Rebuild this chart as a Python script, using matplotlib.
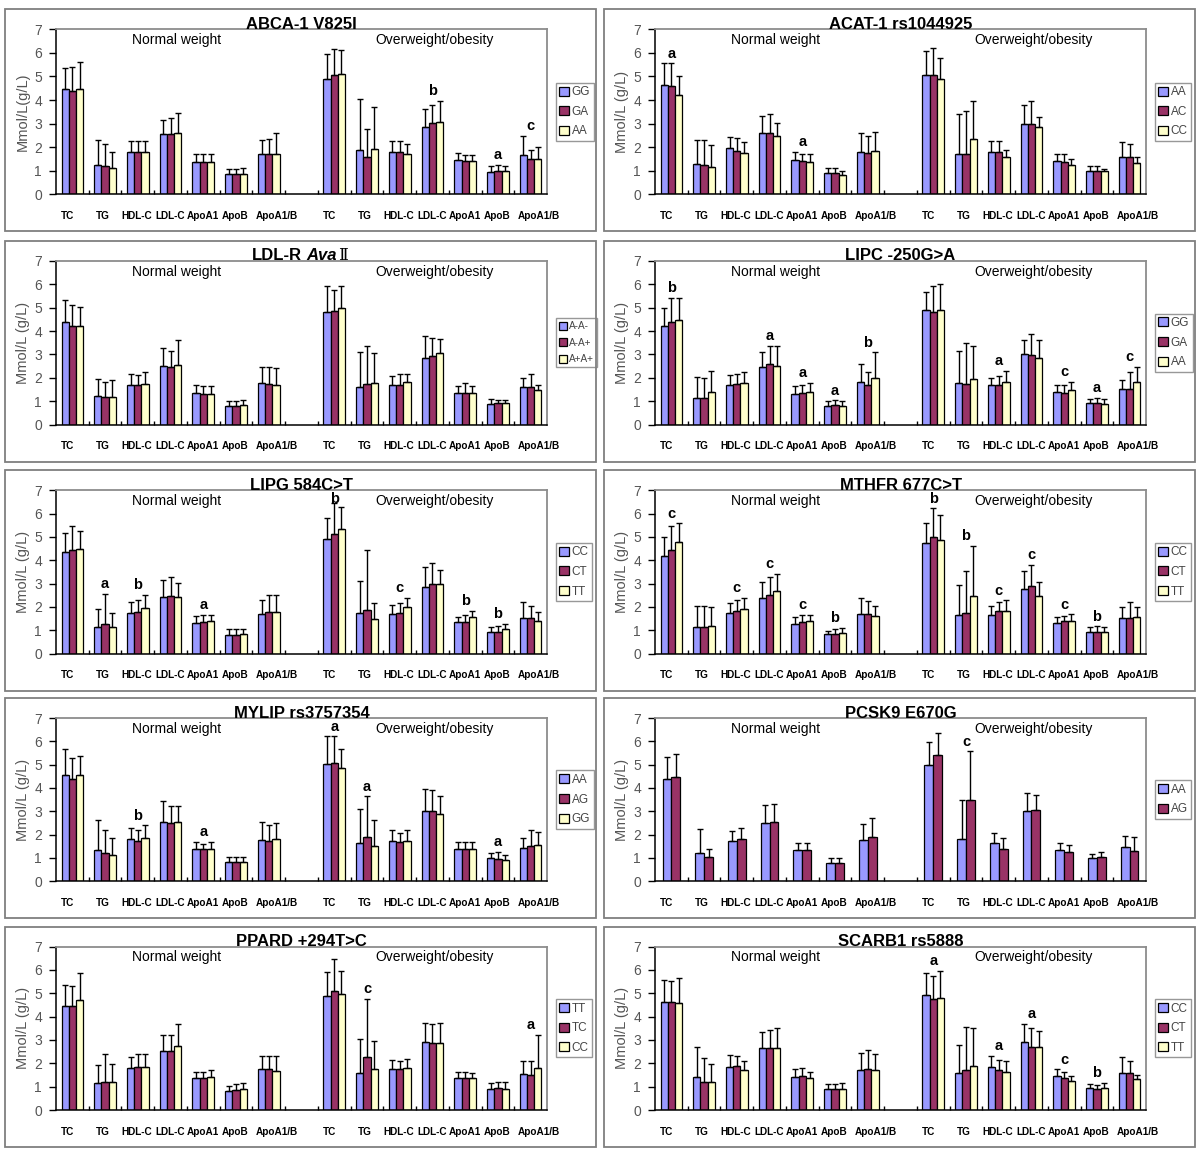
import matplotlib
matplotlib.use('Agg')
import matplotlib.pyplot as plt
from matplotlib.patches import Rectangle
import numpy as np

plt.rcParams['font.family'] = ['Liberation Sans', 'DejaVu Sans']

categories = ['TC', 'TG', 'HDL-C', 'LDL-C', 'ApoA1', 'ApoB', 'ApoA1/B']
bar_colors = ['#9999FF', '#993366', '#FFFFCC']

# ---- data: rows = categories, columns = genotypes; "top" = mean + SD ----
abca_geno = ['GG', 'GA', 'AA']
abca_normal = [[4.45, 4.40, 4.48], [1.25, 1.18, 1.13], [1.80, 1.80, 1.80], [2.55, 2.55, 2.62],
               [1.38, 1.38, 1.38], [0.87, 0.87, 0.87], [1.70, 1.73, 1.73]]
abca_normal_top = [[5.35, 5.38, 5.60], [2.30, 2.15, 1.80], [2.27, 2.27, 2.27], [3.17, 3.23, 3.47],
                   [1.70, 1.70, 1.70], [1.06, 1.06, 1.13], [2.32, 2.34, 2.60]]
abca_over = [[4.90, 5.04, 5.10], [1.86, 1.58, 1.92], [1.80, 1.80, 1.70], [2.84, 3.02, 3.06],
             [1.46, 1.40, 1.42], [0.94, 0.98, 0.98], [1.68, 1.48, 1.49]]
abca_over_top = [[5.95, 6.17, 6.12], [4.05, 2.76, 3.72], [2.27, 2.24, 2.14], [3.61, 3.79, 3.96],
                 [1.74, 1.66, 1.68], [1.18, 1.23, 1.18], [2.49, 1.90, 2.00]]
abca_letters = [('over', 3, 'b'), ('over', 5, 'a'), ('over', 6, 'c')]

acat_geno = ['AA', 'AC', 'CC']
acat_normal = [[4.62, 4.59, 4.20], [1.29, 1.25, 1.14], [1.95, 1.83, 1.75], [2.61, 2.61, 2.46],
               [1.46, 1.42, 1.38], [0.90, 0.90, 0.80], [1.80, 1.75, 1.85]]
acat_normal_top = [[5.55, 5.55, 5.01], [2.32, 2.32, 2.10], [2.41, 2.38, 2.22], [3.34, 3.42, 3.03],
                   [1.78, 1.72, 1.72], [1.11, 1.11, 0.97], [2.59, 2.46, 2.66]]
acat_over = [[5.04, 5.04, 4.90], [1.73, 1.73, 2.36], [1.78, 1.80, 1.59], [2.98, 2.98, 2.87],
             [1.42, 1.39, 1.26], [0.97, 0.97, 0.97], [1.58, 1.58, 1.31]]
acat_over_top = [[6.08, 6.19, 5.77], [3.42, 3.55, 3.95], [2.24, 2.27, 1.89], [3.78, 3.95, 3.30],
                 [1.69, 1.72, 1.49], [1.18, 1.21, 1.07], [2.23, 2.14, 1.58]]
acat_letters = [('normal', 0, 'a'), ('normal', 4, 'a')]

ldlr_geno = ['A-A-', 'A-A+', 'A+A+']
ldlr_normal = [[4.37, 4.23, 4.23], [1.21, 1.17, 1.17], [1.70, 1.70, 1.73], [2.50, 2.47, 2.54],
               [1.34, 1.32, 1.30], [0.80, 0.80, 0.82], [1.76, 1.73, 1.70]]
ldlr_normal_top = [[5.33, 5.11, 5.04], [1.93, 1.80, 1.89], [2.16, 2.11, 2.26], [3.26, 3.16, 3.61],
                   [1.68, 1.65, 1.65], [1.01, 1.01, 1.04], [2.47, 2.47, 2.40]]
ldlr_over = [[4.83, 4.85, 5.00], [1.61, 1.73, 1.76], [1.70, 1.70, 1.81], [2.86, 2.93, 3.04],
             [1.37, 1.37, 1.37], [0.89, 0.93, 0.93], [1.59, 1.60, 1.46]]
ldlr_over_top = [[5.93, 5.76, 5.93], [3.09, 3.37, 3.04], [2.09, 2.16, 2.16], [3.79, 3.69, 3.64],
                 [1.66, 1.76, 1.66], [1.11, 1.07, 1.05], [2.01, 2.16, 1.69]]
ldlr_letters = []

lipc_geno = ['GG', 'GA', 'AA']
lipc_normal = [[4.20, 4.39, 4.47], [1.13, 1.13, 1.40], [1.70, 1.73, 1.77], [2.47, 2.60, 2.50],
               [1.30, 1.35, 1.40], [0.79, 0.82, 0.79], [1.80, 1.70, 2.01]]
lipc_normal_top = [[5.00, 5.40, 5.43], [2.03, 1.97, 2.29], [2.11, 2.15, 2.23], [3.11, 3.36, 3.36],
                   [1.64, 1.70, 1.79], [1.00, 1.03, 1.00], [2.61, 2.23, 3.09]]
lipc_over = [[4.90, 4.83, 4.90], [1.79, 1.73, 1.93], [1.69, 1.69, 1.83], [3.00, 2.96, 2.83],
             [1.39, 1.36, 1.46], [0.93, 0.93, 0.86], [1.50, 1.52, 1.83]]
lipc_over_top = [[5.69, 5.93, 6.00], [3.14, 3.50, 3.36], [2.00, 2.07, 2.31], [3.60, 3.86, 3.60],
                 [1.71, 1.69, 1.83], [1.11, 1.14, 1.10], [1.89, 2.26, 2.47]]
lipc_letters = [('normal', 0, 'b'), ('normal', 3, 'a'), ('normal', 4, 'a'), ('normal', 5, 'a'),
                ('normal', 6, 'b'), ('over', 2, 'a'), ('over', 4, 'c'), ('over', 5, 'a'),
                ('over', 6, 'c')]

lipg_geno = ['CC', 'CT', 'TT']
lipg_normal = [[4.36, 4.44, 4.50], [1.13, 1.26, 1.13], [1.73, 1.80, 1.96], [2.44, 2.47, 2.41],
               [1.30, 1.33, 1.40], [0.80, 0.78, 0.82], [1.69, 1.76, 1.76]]
lipg_normal_top = [[5.17, 5.46, 5.27], [1.90, 2.57, 1.73], [2.19, 2.30, 2.53], [3.17, 3.27, 3.01],
                   [1.60, 1.67, 1.67], [1.03, 1.03, 1.03], [2.30, 2.49, 2.49]]
lipg_over = [[4.90, 5.13, 5.33], [1.73, 1.87, 1.46], [1.70, 1.73, 2.00], [2.87, 3.00, 3.00],
             [1.36, 1.36, 1.56], [0.94, 0.94, 1.04], [1.51, 1.51, 1.40]]
lipg_over_top = [[5.80, 6.44, 6.29], [3.13, 4.46, 2.17], [2.07, 2.18, 2.37], [3.73, 3.87, 3.59],
                 [1.57, 1.67, 1.83], [1.14, 1.18, 1.27], [2.21, 2.04, 1.77]]
lipg_letters = [('normal', 1, 'a'), ('normal', 2, 'b'), ('normal', 4, 'a'), ('over', 0, 'b'),
                ('over', 2, 'c'), ('over', 4, 'b'), ('over', 5, 'b')]

mthfr_geno = ['CC', 'CT', 'TT']
mthfr_normal = [[4.17, 4.45, 4.78], [1.12, 1.15, 1.19], [1.74, 1.82, 1.92], [2.38, 2.50, 2.70],
                [1.28, 1.36, 1.41], [0.82, 0.83, 0.88], [1.68, 1.68, 1.59]]
mthfr_normal_top = [[4.99, 5.45, 5.58], [2.05, 2.05, 1.99], [2.15, 2.30, 2.38], [3.06, 3.27, 3.41],
                    [1.55, 1.65, 1.65], [0.98, 1.05, 1.09], [2.37, 2.27, 2.02]]
mthfr_over = [[4.73, 5.00, 4.85], [1.64, 1.75, 2.45], [1.64, 1.81, 1.81], [2.78, 2.88, 2.45],
              [1.31, 1.39, 1.41], [0.92, 0.93, 0.92], [1.52, 1.52, 1.55]]
mthfr_over_top = [[5.58, 6.24, 5.93], [2.93, 3.56, 4.63], [2.04, 2.21, 2.28], [3.52, 3.80, 3.08],
                  [1.56, 1.62, 1.68], [1.12, 1.16, 1.12], [2.01, 2.22, 1.98]]
mthfr_letters = [('normal', 0, 'c'), ('normal', 2, 'c'), ('normal', 3, 'c'), ('normal', 4, 'c'),
                 ('normal', 5, 'b'), ('over', 0, 'b'), ('over', 1, 'b'), ('over', 2, 'c'),
                 ('over', 3, 'c'), ('over', 4, 'c'), ('over', 5, 'b')]

mylip_geno = ['AA', 'AG', 'GG']
mylip_normal = [[4.56, 4.40, 4.55], [1.33, 1.20, 1.11], [1.80, 1.74, 1.87], [2.54, 2.50, 2.54],
                [1.37, 1.37, 1.40], [0.83, 0.83, 0.83], [1.76, 1.72, 1.80]]
mylip_normal_top = [[5.69, 5.30, 5.37], [2.61, 2.21, 1.86], [2.30, 2.20, 2.40], [3.44, 3.21, 3.21],
                    [1.70, 1.61, 1.70], [1.04, 1.04, 1.04], [2.53, 2.40, 2.50]]
mylip_over = [[5.04, 5.09, 4.86], [1.64, 1.91, 1.53], [1.74, 1.69, 1.74], [3.00, 3.03, 2.87],
              [1.40, 1.40, 1.40], [1.00, 0.97, 0.93], [1.43, 1.51, 1.57]]
mylip_over_top = [[6.21, 6.21, 5.69], [3.10, 3.64, 2.61], [2.19, 2.07, 2.21], [3.94, 3.90, 3.64],
                  [1.67, 1.67, 1.67], [1.20, 1.26, 1.11], [1.87, 2.20, 2.11]]
mylip_letters = [('normal', 2, 'b'), ('normal', 4, 'a'), ('over', 0, 'a'), ('over', 1, 'a'),
                 ('over', 5, 'a')]

pcsk9_geno = ['AA', 'AG']
pcsk9_normal = [[4.37, 4.47], [1.21, 1.03], [1.73, 1.81], [2.50, 2.53],
                [1.34, 1.34], [0.80, 0.77], [1.77, 1.90]]
pcsk9_normal_top = [[5.31, 5.44], [2.23, 1.40], [2.16, 2.27], [3.29, 3.31],
                    [1.64, 1.64], [1.00, 1.00], [2.47, 2.73]]
pcsk9_over = [[5.00, 5.40], [1.80, 3.47], [1.66, 1.40], [3.00, 3.07],
              [1.33, 1.27], [0.99, 1.06], [1.47, 1.30]]
pcsk9_over_top = [[5.99, 6.34], [3.50, 5.57], [2.09, 1.86], [3.80, 3.71],
                  [1.64, 1.57], [1.17, 1.24], [1.93, 1.89]]
pcsk9_letters = [('over', 1, 'c')]

ppard_geno = ['TT', 'TC', 'CC']
ppard_normal = [[4.45, 4.45, 4.72], [1.14, 1.19, 1.19], [1.81, 1.85, 1.83], [2.52, 2.52, 2.76],
                [1.35, 1.35, 1.41], [0.80, 0.85, 0.88], [1.74, 1.74, 1.65]]
ppard_normal_top = [[5.36, 5.33, 5.85], [1.92, 2.39, 1.96], [2.28, 2.38, 2.38], [3.20, 3.20, 3.70],
                    [1.64, 1.64, 1.72], [1.02, 1.10, 1.14], [2.30, 2.30, 2.33]]
ppard_over = [[4.89, 5.08, 4.98], [1.59, 2.26, 1.74], [1.74, 1.74, 1.78], [2.93, 2.86, 2.88],
              [1.37, 1.37, 1.35], [0.91, 0.95, 0.91], [1.52, 1.51, 1.81]]
ppard_over_top = [[5.89, 6.47, 5.93], [3.06, 4.75, 2.96], [2.13, 2.10, 2.20], [3.73, 3.70, 3.72],
                  [1.64, 1.64, 1.58], [1.15, 1.21, 1.22], [2.11, 2.08, 3.23]]
ppard_letters = [('over', 1, 'c'), ('over', 6, 'a')]

scarb_geno = ['CC', 'CT', 'TT']
scarb_normal = [[4.64, 4.64, 4.57], [1.40, 1.20, 1.20], [1.83, 1.87, 1.73], [2.64, 2.64, 2.64],
                [1.41, 1.46, 1.37], [0.90, 0.90, 0.90], [1.73, 1.75, 1.70]]
scarb_normal_top = [[5.57, 5.54, 5.66], [2.69, 2.23, 1.97], [2.37, 2.31, 2.11], [3.33, 3.43, 3.49],
                    [1.74, 1.79, 1.64], [1.11, 1.11, 1.17], [2.46, 2.59, 2.41]]
scarb_over = [[4.94, 4.74, 4.79], [1.57, 1.73, 1.87], [1.83, 1.73, 1.64], [2.90, 2.71, 2.71],
              [1.46, 1.37, 1.23], [0.93, 0.88, 0.93], [1.60, 1.57, 1.34]]
scarb_over_top = [[5.86, 5.73, 5.96], [2.79, 3.57, 3.50], [2.31, 2.16, 2.11], [3.69, 3.49, 3.37],
                  [1.74, 1.64, 1.44], [1.11, 1.09, 1.17], [2.27, 2.09, 1.51]]
scarb_letters = [('over', 0, 'a'), ('over', 2, 'a'), ('over', 3, 'a'), ('over', 4, 'c'),
                 ('over', 5, 'b')]

bold = {'fontweight': 'bold', 'fontsize': 12}
panels = [
    ([('ABCA-1 V825I', bold)], 'Mmol/L(g/L)', abca_geno, abca_normal, abca_normal_top, abca_over, abca_over_top, abca_letters),
    ([('ACAT-1 rs1044925', bold)], 'Mmol/L (g/L)', acat_geno, acat_normal, acat_normal_top, acat_over, acat_over_top, acat_letters),
    ([('LDL-R', bold), ('Ava', dict(bold, fontstyle='italic')), ('Ⅱ', {'fontsize': 12, 'family': ['DejaVu Serif']})],
     'Mmol/L (g/L)', ldlr_geno, ldlr_normal, ldlr_normal_top, ldlr_over, ldlr_over_top, ldlr_letters),
    ([('LIPC -250G>A', bold)], 'Mmol/L (g/L)', lipc_geno, lipc_normal, lipc_normal_top, lipc_over, lipc_over_top, lipc_letters),
    ([('LIPG 584C>T', bold)], 'Mmol/L (g/L)', lipg_geno, lipg_normal, lipg_normal_top, lipg_over, lipg_over_top, lipg_letters),
    ([('MTHFR 677C>T', bold)], 'Mmol/L (g/L)', mthfr_geno, mthfr_normal, mthfr_normal_top, mthfr_over, mthfr_over_top, mthfr_letters),
    ([('MYLIP rs3757354', bold)], 'Mmol/L (g/L)', mylip_geno, mylip_normal, mylip_normal_top, mylip_over, mylip_over_top, mylip_letters),
    ([('PCSK9 E670G', bold)], 'Mmol/L (g/L)', pcsk9_geno, pcsk9_normal, pcsk9_normal_top, pcsk9_over, pcsk9_over_top, pcsk9_letters),
    ([('PPARD +294T>C', bold)], 'Mmol/L (g/L)', ppard_geno, ppard_normal, ppard_normal_top, ppard_over, ppard_over_top, ppard_letters),
    ([('SCARB1 rs5888', bold)], 'Mmol/L (g/L)', scarb_geno, scarb_normal, scarb_normal_top, scarb_over, scarb_over_top, scarb_letters),
]

W, H = 1200, 1157
fig = plt.figure(figsize=(12, 11.57), dpi=100)
renderer = fig.canvas.get_renderer()

# axes layout in pixels
row_tb = [(29.3, 194.3), (261, 424.5), (490.3, 653.5), (718, 881.3), (946.5, 1110)]
col_lr = [(56, 547), (655, 1146)]

normal_slots = np.arange(7)
over_slots = np.arange(8, 15)
# the category labels are typed a little wider than the slots
label_shift = np.array([-0.15, -0.06, -0.02, 0, 0, -0.02, 0.24])
gray = '#555555'


def draw_title(parts, cx, base_y, gap=4):
    items = []
    for s, kw in parts:
        items.append(fig.text(0, 1 - base_y / H, s, ha='left', va='baseline', **kw))
    widths = [t.get_window_extent(renderer).width for t in items]
    total = sum(widths) + gap * (len(items) - 1)
    x = cx - total / 2
    for i, (t, w) in enumerate(zip(items, widths)):
        t.set_x(x / W)
        x += w + (gap if i == 0 else 1)


for k, (title, ylab, geno, normal, normal_top, over, over_top, letters) in enumerate(panels):
    r, c = divmod(k, 2)
    top, bottom = row_tb[r]
    x0, x1 = col_lr[c]
    ax = fig.add_axes([x0 / W, 1 - bottom / H, (x1 - x0) / W, (bottom - top) / H])

    # panel frame
    fig.patches.append(Rectangle(((x0 - 51) / W, 1 - (bottom + 37) / H), (x1 - x0 + 100) / W,
                                 (bottom - top + 57) / H, transform=fig.transFigure,
                                 fill=False, edgecolor='#7f7f7f', linewidth=1.3))

    n = len(geno)
    bw = 0.22 if n == 3 else 0.27
    normal = np.array(normal)
    normal_top = np.array(normal_top)
    over = np.array(over)
    over_top = np.array(over_top)
    for j in range(n):
        x = np.concatenate([normal_slots, over_slots]) + (j - (n - 1) / 2) * bw
        vals = np.concatenate([normal[:, j], over[:, j]])
        tops = np.concatenate([normal_top[:, j], over_top[:, j]])
        ax.bar(x, vals, bw, color=bar_colors[j], edgecolor='black', linewidth=0.9,
               label=geno[j], zorder=2)
        ax.errorbar(x, vals, yerr=[np.zeros_like(vals), tops - vals], fmt='none',
                    ecolor='black', elinewidth=1.0, capsize=2.5, capthick=1.0, zorder=3)

    for seg, ci, letter in letters:
        slot = normal_slots[ci] if seg == 'normal' else over_slots[ci]
        tops = normal_top[ci] if seg == 'normal' else over_top[ci]
        ax.text(slot, min(tops.max() + 0.42, 6.62), letter, ha='center', va='center',
                fontsize=10.5, fontweight='bold')

    ax.set_xlim(-0.5, 14.5)
    ax.set_ylim(0, 7)
    ax.set_yticks(range(8))
    ax.tick_params(axis='y', direction='out', length=5, width=1, labelsize=10,
                   labelcolor=gray, pad=5)
    ax.set_xticks(list(normal_slots + label_shift) + list(over_slots + label_shift),
                  categories + categories)
    ax.tick_params(axis='x', which='major', length=0, pad=12)
    for lab in ax.get_xticklabels():
        lab.set_fontweight('bold')
        lab.set_fontsize(7.2)
    ax.set_xticks(np.arange(0.5, 14, 1), minor=True)
    ax.tick_params(axis='x', which='minor', direction='in', length=3, width=1)
    for s in ['top', 'right']:
        ax.spines[s].set_color('#8c8c8c')
        ax.spines[s].set_linewidth(1.3)
    for s in ['left', 'bottom']:
        ax.spines[s].set_linewidth(1.1)
    ax.set_ylabel(ylab, fontsize=10.5, color=gray, labelpad=3)

    ax.text(0.245, 0.935, 'Normal weight', transform=ax.transAxes, ha='center', va='center',
            fontsize=10)
    ax.text(0.77, 0.935, 'Overweight/obesity', transform=ax.transAxes, ha='center',
            va='center', fontsize=10)

    leg_size = 8.5 if max(len(g) for g in geno) <= 2 else 7.2
    leg = ax.legend(loc='center left', bbox_to_anchor=(1.018, 0.5), frameon=True,
                    fancybox=False, edgecolor='#7f7f7f', handlelength=0.8, handleheight=0.8,
                    handletextpad=0.25, labelspacing=0.65, borderpad=0.3, borderaxespad=0,
                    fontsize=leg_size, labelcolor='#444444')
    leg.get_frame().set_linewidth(1.0)

    draw_title(title, (x0 + x1) / 2, top - 0.5)

fig.savefig('out.png', dpi=100)
